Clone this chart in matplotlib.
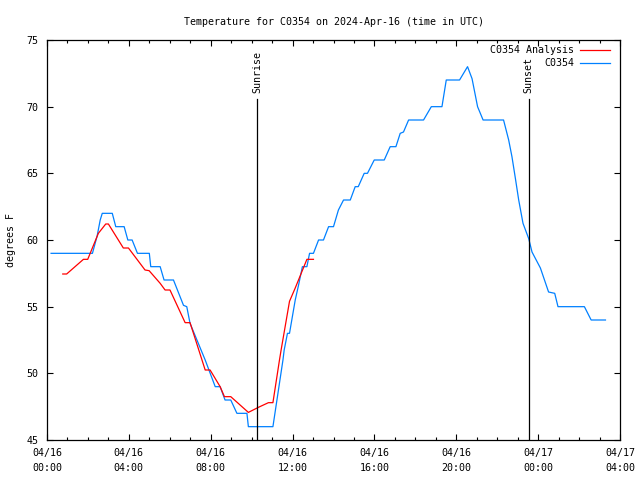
import pandas as pd
import matplotlib
matplotlib.use("Agg")
import matplotlib.pyplot as plt
import matplotlib.dates as mdates
from matplotlib.lines import Line2D

# hours after 2024-04-16 00:00 UTC
obs_hours = [0.2, 2.22, 2.45, 2.6, 2.7, 3.19, 3.36, 3.77, 3.95, 4.16, 4.42, 5.0, 5.07,
             5.53, 5.72, 6.18, 6.67, 6.83, 6.99, 7.73, 8.22, 8.46, 8.7, 8.98, 9.28,
             9.77, 9.84, 11.04, 11.53, 11.59, 11.75, 11.85, 12.13, 12.29, 12.48, 12.7,
             12.83, 13.02, 13.27, 13.51, 13.76, 14.0, 14.24, 14.49, 14.82, 15.06, 15.21,
             15.5, 15.66, 15.99, 16.48, 16.77, 17.05, 17.26, 17.42, 17.67, 18.4, 18.78,
             19.3, 19.51, 20.16, 20.55, 20.77, 21.04, 21.31, 22.31, 22.56, 22.72, 22.89,
             23.05, 23.26, 23.54, 23.7, 24.11, 24.51, 24.81, 24.97, 26.26, 26.59, 27.29]
obs_temp = [59, 59, 60.3, 61.5, 62, 62, 61, 61, 60, 60, 59, 59, 58,
            58, 57, 57, 55.1, 55, 53.75, 51, 49, 49, 48, 48, 47,
            47, 46, 46, 51, 51.75, 53, 53, 55.5, 56.6, 58, 58,
            59, 59, 60, 60, 61, 61, 62.25, 63, 63, 64, 64,
            65, 65, 66, 66, 67, 67, 68, 68.1, 69, 69, 70,
            70, 72, 72, 73, 72.1, 70, 69, 69, 67.5, 66.25, 64.6,
            63, 61.25, 60.1, 59.1, 57.9, 56.1, 56, 55, 55, 54, 54]

ana_hours = [0.77, 0.96, 1.78, 1.99, 2.51, 2.87, 3.0, 3.73, 3.98, 4.79, 4.99, 5.53,
             5.77, 6.01, 6.75, 6.99, 7.73, 7.97, 8.46, 8.67, 8.98, 9.84, 10.33, 10.82,
             11.04, 11.36, 11.44, 11.85, 12.13, 12.7, 13.02]
ana_temp = [57.45, 57.45, 58.55, 58.55, 60.5, 61.2, 61.2, 59.4, 59.4, 57.75, 57.7, 56.75,
            56.25, 56.25, 53.8, 53.8, 50.25, 50.25, 49.0, 48.25, 48.25, 47.07, 47.45, 47.8,
            47.8, 51, 51.75, 55.4, 56.4, 58.55, 58.55]

sun_hours = [10.28, 23.54]
sun_labels = ["Sunrise", "Sunset"]

base = pd.Timestamp("2024-04-16 00:00")
to_time = lambda h: base + pd.to_timedelta(h, unit="h")

plt.rcParams['font.family'] = ['DejaVu Sans Mono']
fs = 7.2

fig = plt.figure(figsize=(6.4, 4.8), dpi=100)
ax = fig.add_axes([47 / 640, 40 / 480, 573 / 640, 400 / 480])

ax.plot(to_time(pd.Series(obs_hours)), obs_temp, color='#0080ff', lw=0.9)
ax.plot(to_time(pd.Series(ana_hours)), ana_temp, color='#ff0000', lw=0.9)

for h, lab in zip(sun_hours, sun_labels):
    t = to_time(h)
    ax.plot([t, t], [45, 70.55], color='black', lw=0.9)
    ax.text(t, 71.0, lab, rotation=90, ha='center', va='bottom', fontsize=fs)

ax.set_xlim(base, to_time(28))
ax.set_ylim(45, 75)
ax.xaxis.set_major_locator(mdates.HourLocator(byhour=[0, 4, 8, 12, 16, 20]))
ax.xaxis.set_minor_locator(mdates.HourLocator())
ax.xaxis.set_major_formatter(mdates.DateFormatter('%m/%d\n%H:%M'))
ax.set_yticks(range(45, 76, 5))
ax.tick_params(which='both', direction='in', top=True, right=True, labelsize=fs, width=0.8)
ax.tick_params(which='major', length=4.5, pad=6)
ax.tick_params(which='minor', length=2.5)
for lbl in ax.get_xticklabels():
    lbl.set_linespacing(1.6)
for s in ax.spines.values():
    s.set_linewidth(0.9)

ax.set_title("Temperature for C0354 on 2024-Apr-16 (time in UTC)", fontsize=fs, pad=11)
ax.set_ylabel("degrees F", fontsize=fs, labelpad=8)

# key, top right like gnuplot
ax.text(0.9197, 0.975, "C0354 Analysis", transform=ax.transAxes, ha='right', va='center', fontsize=fs)
ax.text(0.9197, 0.9425, "C0354", transform=ax.transAxes, ha='right', va='center', fontsize=fs)
ax.add_line(Line2D([0.930, 0.982], [0.975, 0.975], transform=ax.transAxes, color='#ff0000', lw=0.9))
ax.add_line(Line2D([0.930, 0.982], [0.9425, 0.9425], transform=ax.transAxes, color='#0080ff', lw=0.9))

fig.savefig("out.png", dpi=100)
